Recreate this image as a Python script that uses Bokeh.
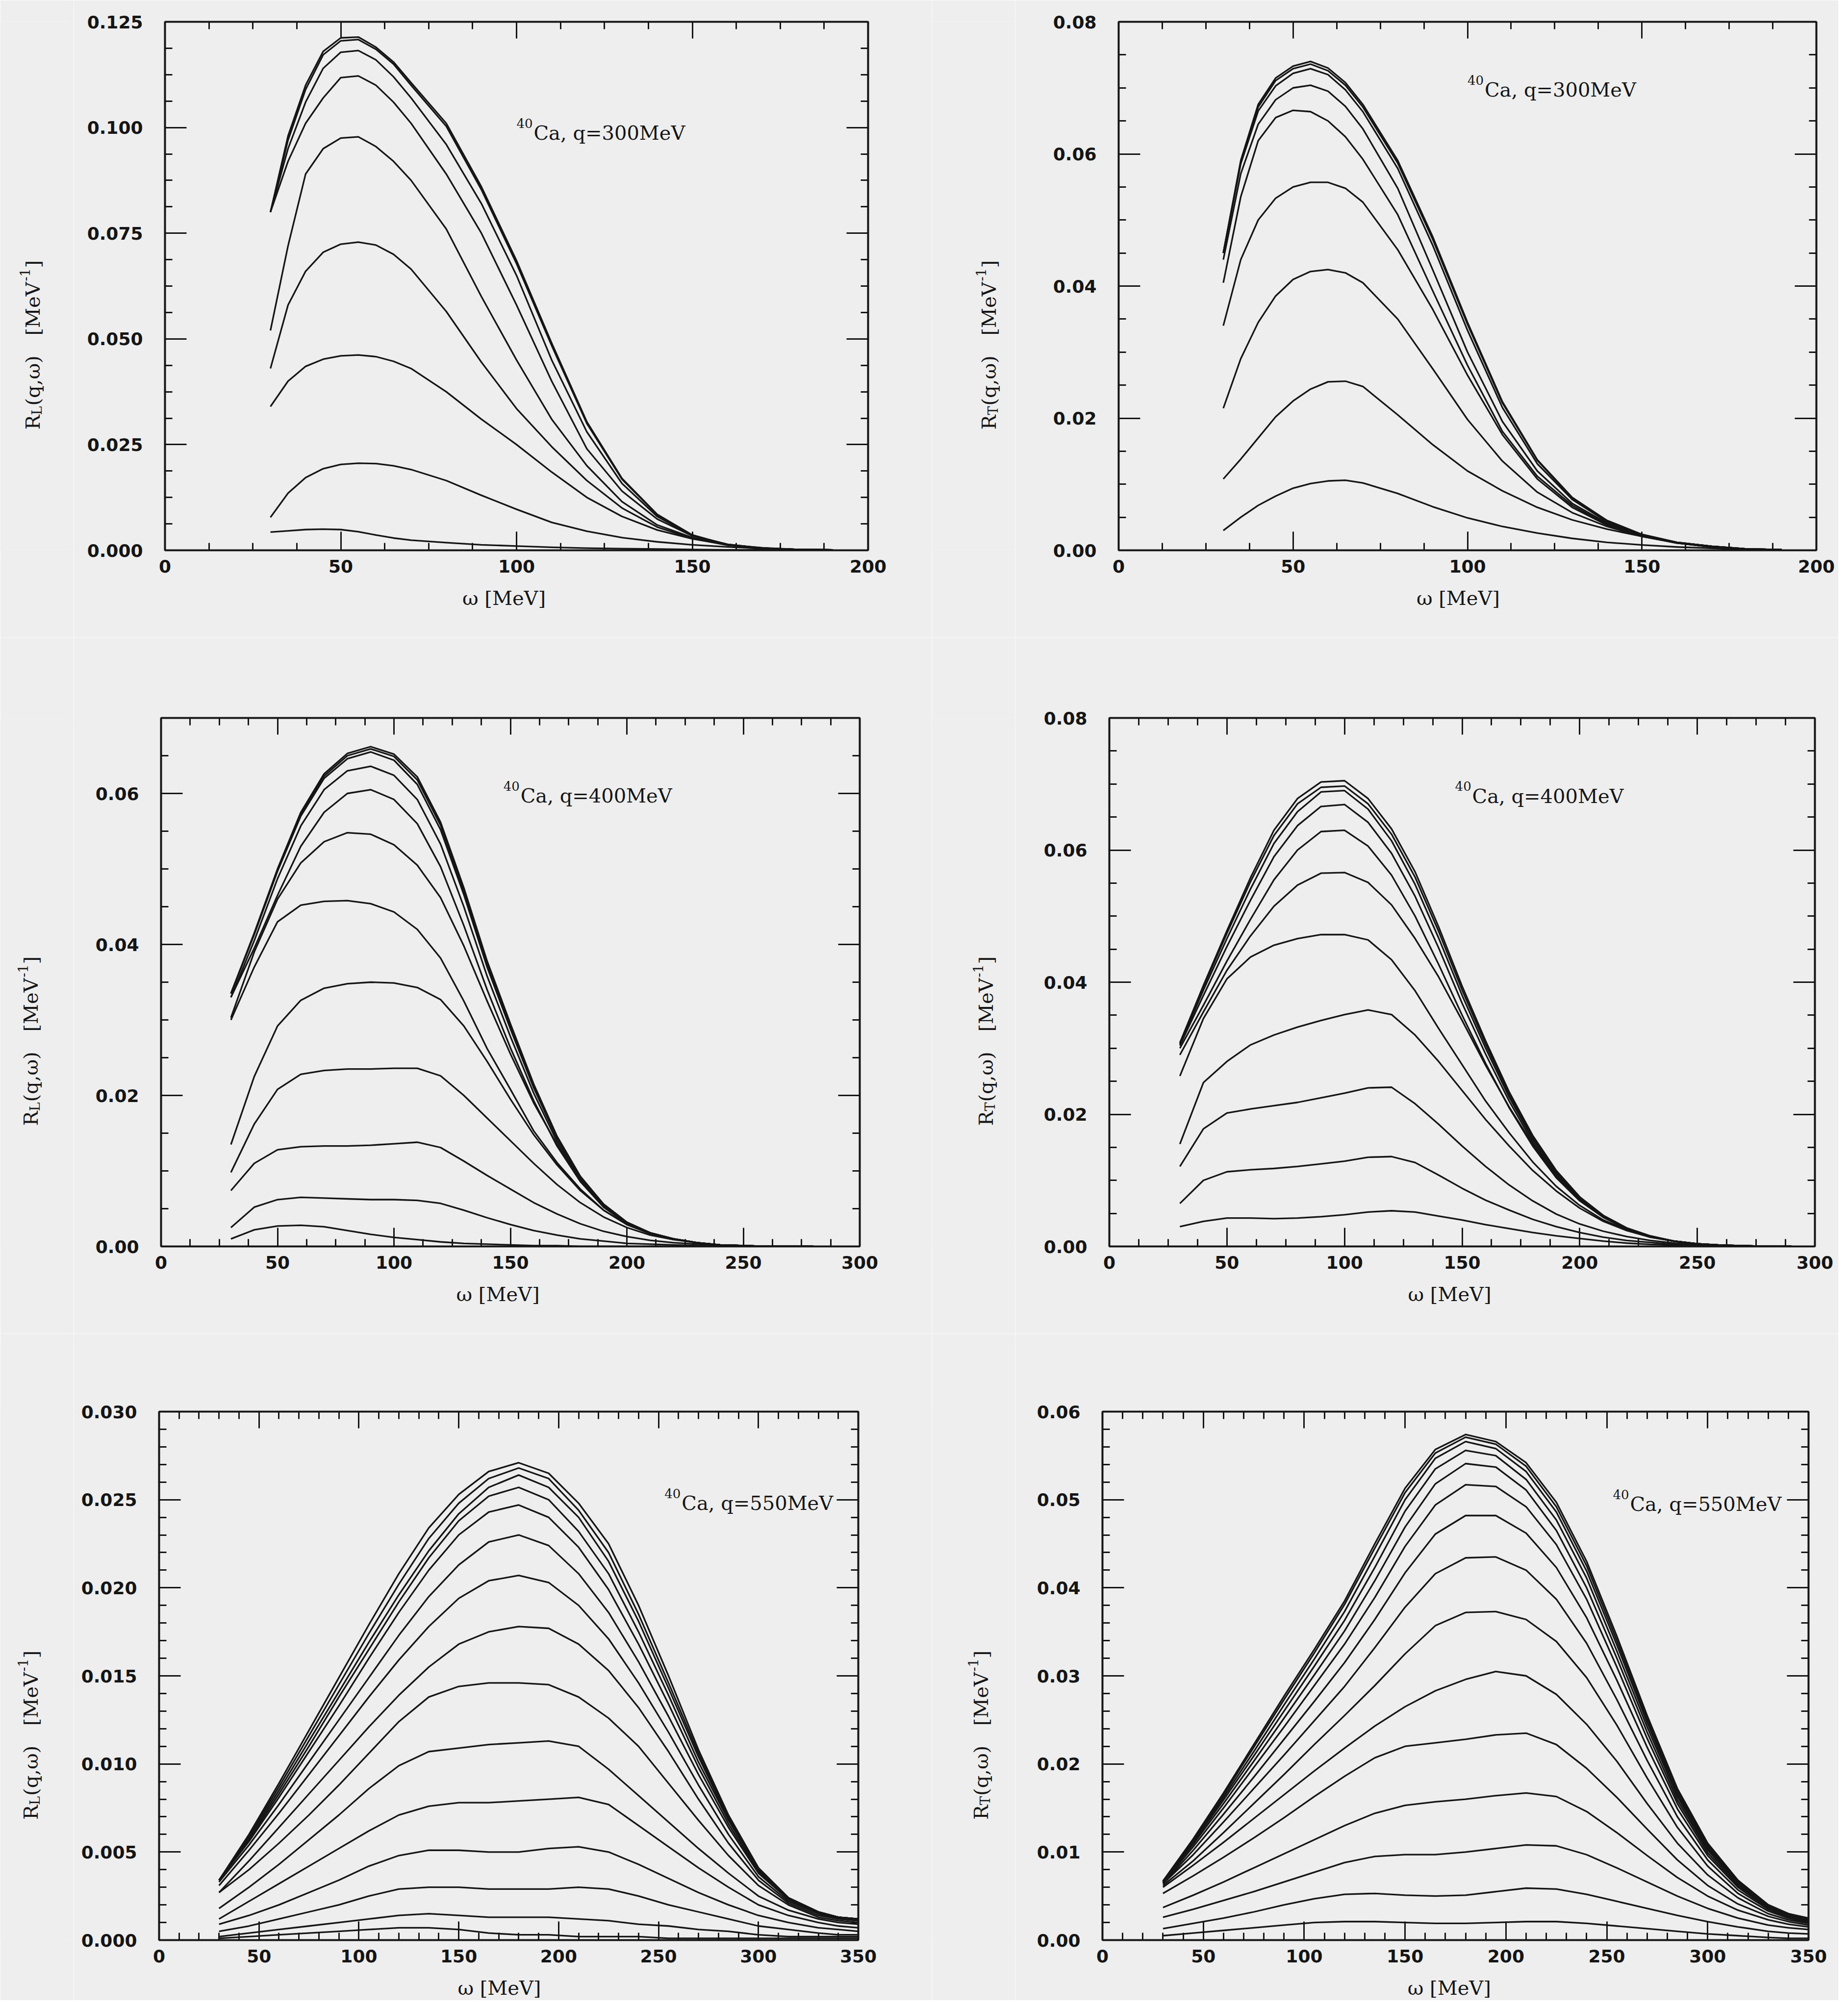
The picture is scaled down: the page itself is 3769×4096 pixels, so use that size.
import math
from bokeh.plotting import figure
from bokeh.models import (Range1d, LinearAxis, FixedTicker, NumeralTickFormatter,
                          CustomJSTickFormatter, Label)
from bokeh.core.properties import value
from bokeh.layouts import column, row
from bokeh.embed import file_html
from bokeh.resources import INLINE

# ------------------------------------------------------------------ data
# omega grids [MeV]
omega_q300 = [30, 35, 40, 45, 50, 55, 60, 65, 70, 80, 90, 100, 110, 120, 130, 140, 150, 160, 170, 180, 190]
omega_q400_L = [30, 40, 50, 60, 70, 80, 90, 100, 110, 120, 130, 140, 150, 160, 170, 180, 190, 200, 210, 220,
                230, 240, 250, 260, 270, 280]
omega_q400_T = [30, 40, 50, 60, 70, 80, 90, 100, 110, 120, 130, 140, 150, 160, 170, 180, 190, 200, 210, 220,
                230, 240, 250, 260, 270, 280, 290]
omega_q550 = [30, 45, 60, 75, 90, 105, 120, 135, 150, 165, 180, 195, 210, 225, 240, 255, 270, 285, 300, 315,
              330, 340, 350]

# R_L(q=300 MeV, omega) [MeV^-1]
RL_q300 = [
    [0.0800, 0.0980, 0.1100, 0.1180, 0.1212, 0.1214, 0.1190, 0.1155, 0.1106, 0.1010, 0.0860, 0.0685, 0.0490, 0.0304, 0.0170, 0.0085, 0.0036, 0.0013, 0.0005, 0.0002, 0.0001],
    [0.0800, 0.0970, 0.1090, 0.1172, 0.1205, 0.1208, 0.1185, 0.1150, 0.1100, 0.1003, 0.0853, 0.0678, 0.0484, 0.0300, 0.0168, 0.0084, 0.0036, 0.0013, 0.0005, 0.0002, 0.0001],
    [0.0800, 0.0950, 0.1060, 0.1140, 0.1178, 0.1182, 0.1160, 0.1120, 0.1070, 0.0960, 0.0820, 0.0650, 0.0450, 0.0280, 0.0158, 0.0080, 0.0035, 0.0014, 0.0005, 0.0002, 0.0001],
    [0.0800, 0.0920, 0.1010, 0.1070, 0.1118, 0.1122, 0.1100, 0.1060, 0.1010, 0.0890, 0.0750, 0.0580, 0.0400, 0.0240, 0.0140, 0.0074, 0.0034, 0.0014, 0.0005, 0.0002, 0.0001],
    [0.0520, 0.0720, 0.0890, 0.0950, 0.0975, 0.0978, 0.0955, 0.0920, 0.0875, 0.0760, 0.0600, 0.0450, 0.0310, 0.0200, 0.0115, 0.0060, 0.0030, 0.0013, 0.0005, 0.0002, 0.0001],
    [0.0430, 0.0580, 0.0660, 0.0705, 0.0724, 0.0729, 0.0722, 0.0700, 0.0665, 0.0565, 0.0445, 0.0335, 0.0245, 0.0165, 0.0100, 0.0055, 0.0028, 0.0012, 0.0005, 0.0002, 0.0001],
    [0.0340, 0.0400, 0.0435, 0.0452, 0.0460, 0.0462, 0.0458, 0.0447, 0.0430, 0.0375, 0.0310, 0.0250, 0.0185, 0.0125, 0.0080, 0.0048, 0.0027, 0.0013, 0.0006, 0.0002, 0.0001],
    [0.0078, 0.0135, 0.0172, 0.0193, 0.0203, 0.0206, 0.0205, 0.0200, 0.0191, 0.0165, 0.0130, 0.0097, 0.0066, 0.0045, 0.0030, 0.0020, 0.0013, 0.0008, 0.0004, 0.0002, 0.0001],
    [0.0043, 0.0046, 0.0049, 0.0050, 0.0049, 0.0044, 0.0036, 0.0029, 0.0024, 0.0018, 0.0013, 0.0010, 0.0007, 0.0005, 0.0004, 0.0003, 0.0002, 0.0001, 0.0001, 0.0000, 0.0000],
]

# R_T(q=300 MeV, omega) [MeV^-1]
RT_q300 = [
    [0.0450, 0.0590, 0.0675, 0.0715, 0.0733, 0.0740, 0.0730, 0.0708, 0.0675, 0.0590, 0.0475, 0.0345, 0.0225, 0.0137, 0.0080, 0.0045, 0.0024, 0.0012, 0.0006, 0.0002, 0.0001],
    [0.0450, 0.0588, 0.0671, 0.0711, 0.0729, 0.0736, 0.0726, 0.0704, 0.0671, 0.0586, 0.0471, 0.0342, 0.0223, 0.0136, 0.0079, 0.0045, 0.0024, 0.0012, 0.0006, 0.0002, 0.0001],
    [0.0450, 0.0585, 0.0665, 0.0703, 0.0722, 0.0729, 0.0720, 0.0697, 0.0664, 0.0578, 0.0462, 0.0333, 0.0216, 0.0131, 0.0077, 0.0043, 0.0023, 0.0012, 0.0006, 0.0002, 0.0001],
    [0.0440, 0.0570, 0.0645, 0.0682, 0.0700, 0.0704, 0.0695, 0.0672, 0.0638, 0.0548, 0.0425, 0.0300, 0.0195, 0.0120, 0.0071, 0.0041, 0.0022, 0.0011, 0.0006, 0.0002, 0.0001],
    [0.0405, 0.0535, 0.0620, 0.0655, 0.0666, 0.0664, 0.0650, 0.0626, 0.0592, 0.0508, 0.0393, 0.0280, 0.0180, 0.0112, 0.0068, 0.0039, 0.0022, 0.0011, 0.0005, 0.0002, 0.0001],
    [0.0340, 0.0440, 0.0500, 0.0533, 0.0550, 0.0557, 0.0557, 0.0548, 0.0527, 0.0455, 0.0365, 0.0265, 0.0175, 0.0108, 0.0065, 0.0038, 0.0021, 0.0011, 0.0005, 0.0002, 0.0001],
    [0.0215, 0.0290, 0.0345, 0.0385, 0.0410, 0.0422, 0.0425, 0.0420, 0.0405, 0.0350, 0.0275, 0.0198, 0.0135, 0.0088, 0.0057, 0.0036, 0.0021, 0.0011, 0.0005, 0.0002, 0.0001],
    [0.0108, 0.0138, 0.0170, 0.0202, 0.0226, 0.0244, 0.0255, 0.0256, 0.0248, 0.0205, 0.0160, 0.0120, 0.0090, 0.0065, 0.0046, 0.0032, 0.0021, 0.0012, 0.0006, 0.0002, 0.0001],
    [0.0030, 0.0050, 0.0068, 0.0082, 0.0094, 0.0101, 0.0105, 0.0106, 0.0102, 0.0086, 0.0066, 0.0049, 0.0036, 0.0026, 0.0018, 0.0012, 0.0008, 0.0005, 0.0003, 0.0001, 0.0001],
]

# R_L(q=400 MeV, omega) [MeV^-1]
RL_q400 = [
    [0.0335, 0.0415, 0.0500, 0.0575, 0.0626, 0.0653, 0.0662, 0.0652, 0.0622, 0.0562, 0.0475, 0.0378, 0.0295, 0.0215, 0.0146, 0.0093, 0.0056, 0.0032, 0.0018, 0.0010, 0.0005, 0.0002, 0.0001, 0.0, 0.0, 0.0],
    [0.0335, 0.0414, 0.0498, 0.0572, 0.0623, 0.0650, 0.0659, 0.0649, 0.0618, 0.0558, 0.0471, 0.0375, 0.0292, 0.0213, 0.0145, 0.0092, 0.0056, 0.0032, 0.0018, 0.0010, 0.0005, 0.0002, 0.0001, 0.0, 0.0, 0.0],
    [0.0335, 0.0413, 0.0497, 0.0570, 0.0620, 0.0646, 0.0655, 0.0644, 0.0612, 0.0552, 0.0466, 0.0370, 0.0288, 0.0210, 0.0143, 0.0091, 0.0055, 0.0032, 0.0018, 0.0010, 0.0005, 0.0002, 0.0001, 0.0, 0.0, 0.0],
    [0.0330, 0.0405, 0.0487, 0.0557, 0.0605, 0.0630, 0.0636, 0.0624, 0.0592, 0.0533, 0.0450, 0.0358, 0.0278, 0.0203, 0.0139, 0.0089, 0.0054, 0.0031, 0.0018, 0.0010, 0.0005, 0.0002, 0.0001, 0.0, 0.0, 0.0],
    [0.0330, 0.0395, 0.0465, 0.0530, 0.0575, 0.0600, 0.0605, 0.0592, 0.0560, 0.0503, 0.0425, 0.0340, 0.0263, 0.0193, 0.0133, 0.0086, 0.0052, 0.0030, 0.0017, 0.0010, 0.0005, 0.0002, 0.0001, 0.0, 0.0, 0.0],
    [0.0303, 0.0390, 0.0460, 0.0508, 0.0536, 0.0548, 0.0546, 0.0532, 0.0505, 0.0462, 0.0398, 0.0325, 0.0255, 0.0190, 0.0135, 0.0088, 0.0054, 0.0031, 0.0018, 0.0010, 0.0005, 0.0002, 0.0001, 0.0, 0.0, 0.0],
    [0.0300, 0.0370, 0.0430, 0.0452, 0.0457, 0.0458, 0.0454, 0.0443, 0.0420, 0.0382, 0.0325, 0.0262, 0.0208, 0.0153, 0.0111, 0.0076, 0.0048, 0.0029, 0.0017, 0.0010, 0.0005, 0.0002, 0.0001, 0.0, 0.0, 0.0],
    [0.0135, 0.0225, 0.0292, 0.0326, 0.0342, 0.0348, 0.0350, 0.0349, 0.0343, 0.0327, 0.0292, 0.0245, 0.0195, 0.0148, 0.0108, 0.0074, 0.0048, 0.0029, 0.0017, 0.0010, 0.0005, 0.0002, 0.0001, 0.0, 0.0, 0.0],
    [0.0098, 0.0162, 0.0208, 0.0228, 0.0233, 0.0235, 0.0235, 0.0236, 0.0236, 0.0226, 0.0200, 0.0170, 0.0140, 0.0110, 0.0082, 0.0058, 0.0039, 0.0025, 0.0015, 0.0009, 0.0005, 0.0002, 0.0001, 0.0, 0.0, 0.0],
    [0.0074, 0.0110, 0.0128, 0.0132, 0.0133, 0.0133, 0.0134, 0.0136, 0.0138, 0.0131, 0.0113, 0.0094, 0.0076, 0.0058, 0.0043, 0.0030, 0.0020, 0.0013, 0.0008, 0.0005, 0.0003, 0.0001, 0.0001, 0.0, 0.0, 0.0],
    [0.0025, 0.0052, 0.0062, 0.0065, 0.0064, 0.0063, 0.0062, 0.0062, 0.0061, 0.0057, 0.0048, 0.0038, 0.0029, 0.0021, 0.0015, 0.0010, 0.0007, 0.0004, 0.0003, 0.0002, 0.0001, 0.0, 0.0, 0.0, 0.0, 0.0],
    [0.0010, 0.0022, 0.0027, 0.0028, 0.0026, 0.0021, 0.0016, 0.0012, 0.0009, 0.0006, 0.0004, 0.0003, 0.0002, 0.0001, 0.0001, 0.0, 0.0, 0.0, 0.0, 0.0, 0.0, 0.0, 0.0, 0.0, 0.0, 0.0],
]

# R_T(q=400 MeV, omega) [MeV^-1]
RT_q400 = [
    [0.0308, 0.0395, 0.0478, 0.0558, 0.0630, 0.0678, 0.0703, 0.0705, 0.0678, 0.0632, 0.0567, 0.0484, 0.0394, 0.0311, 0.0234, 0.0168, 0.0115, 0.0075, 0.0047, 0.0028, 0.0016, 0.0008, 0.0004, 0.0002, 0.0001, 0.0, 0.0],
    [0.0308, 0.0393, 0.0474, 0.0552, 0.0622, 0.0670, 0.0695, 0.0697, 0.0670, 0.0624, 0.0559, 0.0477, 0.0388, 0.0306, 0.0230, 0.0165, 0.0113, 0.0074, 0.0046, 0.0027, 0.0015, 0.0008, 0.0004, 0.0002, 0.0001, 0.0, 0.0],
    [0.0306, 0.0388, 0.0466, 0.0541, 0.0610, 0.0658, 0.0688, 0.0690, 0.0662, 0.0614, 0.0548, 0.0467, 0.0380, 0.0300, 0.0226, 0.0162, 0.0111, 0.0073, 0.0046, 0.0027, 0.0015, 0.0008, 0.0004, 0.0002, 0.0001, 0.0, 0.0],
    [0.0304, 0.0380, 0.0454, 0.0524, 0.0590, 0.0637, 0.0666, 0.0669, 0.0642, 0.0595, 0.0530, 0.0452, 0.0368, 0.0291, 0.0220, 0.0158, 0.0108, 0.0071, 0.0045, 0.0027, 0.0015, 0.0008, 0.0004, 0.0002, 0.0001, 0.0, 0.0],
    [0.0300, 0.0365, 0.0432, 0.0495, 0.0555, 0.0600, 0.0628, 0.0630, 0.0606, 0.0562, 0.0500, 0.0427, 0.0350, 0.0277, 0.0210, 0.0152, 0.0104, 0.0069, 0.0044, 0.0026, 0.0015, 0.0008, 0.0004, 0.0002, 0.0001, 0.0, 0.0],
    [0.0290, 0.0355, 0.0418, 0.0470, 0.0515, 0.0547, 0.0565, 0.0566, 0.0551, 0.0517, 0.0466, 0.0408, 0.0342, 0.0274, 0.0211, 0.0155, 0.0107, 0.0071, 0.0045, 0.0027, 0.0015, 0.0008, 0.0004, 0.0002, 0.0001, 0.0, 0.0],
    [0.0258, 0.0345, 0.0405, 0.0438, 0.0456, 0.0466, 0.0472, 0.0472, 0.0464, 0.0434, 0.0387, 0.0330, 0.0275, 0.0220, 0.0172, 0.0128, 0.0091, 0.0062, 0.0040, 0.0025, 0.0014, 0.0008, 0.0004, 0.0002, 0.0001, 0.0, 0.0],
    [0.0155, 0.0248, 0.0280, 0.0305, 0.0320, 0.0332, 0.0342, 0.0351, 0.0358, 0.0351, 0.0320, 0.0280, 0.0236, 0.0192, 0.0152, 0.0115, 0.0084, 0.0058, 0.0038, 0.0024, 0.0014, 0.0008, 0.0004, 0.0002, 0.0001, 0.0, 0.0],
    [0.0121, 0.0178, 0.0202, 0.0208, 0.0213, 0.0218, 0.0225, 0.0232, 0.0240, 0.0241, 0.0216, 0.0185, 0.0152, 0.0121, 0.0093, 0.0069, 0.0049, 0.0034, 0.0023, 0.0015, 0.0009, 0.0005, 0.0003, 0.0001, 0.0001, 0.0, 0.0],
    [0.0065, 0.0100, 0.0113, 0.0116, 0.0118, 0.0121, 0.0125, 0.0129, 0.0135, 0.0136, 0.0127, 0.0108, 0.0088, 0.0070, 0.0055, 0.0041, 0.0030, 0.0021, 0.0014, 0.0009, 0.0006, 0.0003, 0.0002, 0.0001, 0.0, 0.0, 0.0],
    [0.0030, 0.0038, 0.0043, 0.0043, 0.0042, 0.0043, 0.0045, 0.0048, 0.0052, 0.0054, 0.0052, 0.0046, 0.0040, 0.0033, 0.0027, 0.0021, 0.0016, 0.0012, 0.0008, 0.0005, 0.0003, 0.0002, 0.0001, 0.0001, 0.0, 0.0, 0.0],
]

# R_L(q=550 MeV, omega) [MeV^-1]
RL_q550 = [
    [0.0034, 0.0060, 0.0089, 0.0119, 0.0149, 0.0179, 0.0208, 0.0234, 0.0253, 0.0266, 0.0271, 0.0265, 0.0248, 0.0225, 0.0190, 0.0150, 0.0108, 0.0071, 0.0041, 0.0024, 0.0016, 0.0013, 0.0012],
    [0.0034, 0.0059, 0.0087, 0.0116, 0.0145, 0.0174, 0.0202, 0.0228, 0.0248, 0.0262, 0.0268, 0.0262, 0.0244, 0.0220, 0.0185, 0.0146, 0.0106, 0.0070, 0.0041, 0.0024, 0.0016, 0.0013, 0.0012],
    [0.0034, 0.0058, 0.0085, 0.0113, 0.0141, 0.0169, 0.0196, 0.0221, 0.0242, 0.0257, 0.0264, 0.0257, 0.0240, 0.0215, 0.0181, 0.0143, 0.0104, 0.0069, 0.0040, 0.0024, 0.0016, 0.0013, 0.0012],
    [0.0034, 0.0057, 0.0083, 0.0110, 0.0138, 0.0165, 0.0192, 0.0217, 0.0238, 0.0252, 0.0257, 0.0250, 0.0232, 0.0208, 0.0175, 0.0139, 0.0101, 0.0068, 0.0040, 0.0024, 0.0016, 0.0013, 0.0012],
    [0.0034, 0.0056, 0.0081, 0.0107, 0.0133, 0.0160, 0.0186, 0.0210, 0.0230, 0.0243, 0.0247, 0.0240, 0.0223, 0.0199, 0.0168, 0.0134, 0.0098, 0.0066, 0.0039, 0.0023, 0.0016, 0.0013, 0.0012],
    [0.0033, 0.0054, 0.0077, 0.0101, 0.0125, 0.0149, 0.0173, 0.0195, 0.0213, 0.0226, 0.0230, 0.0224, 0.0208, 0.0186, 0.0158, 0.0127, 0.0094, 0.0064, 0.0038, 0.0023, 0.0015, 0.0013, 0.0012],
    [0.0031, 0.0051, 0.0072, 0.0094, 0.0116, 0.0138, 0.0159, 0.0178, 0.0194, 0.0204, 0.0207, 0.0203, 0.0190, 0.0171, 0.0146, 0.0118, 0.0088, 0.0060, 0.0036, 0.0022, 0.0015, 0.0012, 0.0011],
    [0.0027, 0.0045, 0.0064, 0.0083, 0.0102, 0.0121, 0.0139, 0.0155, 0.0168, 0.0175, 0.0178, 0.0177, 0.0168, 0.0153, 0.0132, 0.0107, 0.0080, 0.0055, 0.0034, 0.0021, 0.0014, 0.0012, 0.0011],
    [0.0027, 0.0040, 0.0055, 0.0071, 0.0088, 0.0106, 0.0124, 0.0138, 0.0144, 0.0146, 0.0146, 0.0145, 0.0138, 0.0126, 0.0110, 0.0089, 0.0068, 0.0048, 0.0031, 0.0020, 0.0013, 0.0011, 0.0010],
    [0.0018, 0.0030, 0.0043, 0.0057, 0.0071, 0.0086, 0.0099, 0.0107, 0.0109, 0.0111, 0.0112, 0.0113, 0.0110, 0.0097, 0.0082, 0.0067, 0.0052, 0.0038, 0.0025, 0.0017, 0.0012, 0.0010, 0.0009],
    [0.0012, 0.0022, 0.0032, 0.0042, 0.0052, 0.0062, 0.0071, 0.0076, 0.0078, 0.0078, 0.0079, 0.0080, 0.0081, 0.0077, 0.0065, 0.0053, 0.0041, 0.0030, 0.0020, 0.0014, 0.0010, 0.0008, 0.0007],
    [0.0009, 0.0014, 0.0020, 0.0027, 0.0034, 0.0042, 0.0048, 0.0051, 0.0051, 0.0050, 0.0050, 0.0052, 0.0053, 0.0050, 0.0043, 0.0035, 0.0027, 0.0020, 0.0014, 0.0010, 0.0007, 0.0006, 0.0005],
    [0.0005, 0.0008, 0.0012, 0.0016, 0.0020, 0.0025, 0.0029, 0.0030, 0.0030, 0.0029, 0.0029, 0.0029, 0.0030, 0.0029, 0.0025, 0.0020, 0.0016, 0.0012, 0.0008, 0.0006, 0.0004, 0.0003, 0.0003],
    [0.0002, 0.0004, 0.0006, 0.0008, 0.0010, 0.0012, 0.0014, 0.0015, 0.0014, 0.0013, 0.0013, 0.0013, 0.0012, 0.0011, 0.0009, 0.0008, 0.0006, 0.0005, 0.0003, 0.0002, 0.0002, 0.0002, 0.0002],
    [0.0001, 0.0002, 0.0003, 0.0004, 0.0005, 0.0006, 0.0007, 0.0007, 0.0006, 0.0004, 0.0003, 0.0003, 0.0002, 0.0002, 0.0002, 0.0001, 0.0001, 0.0001, 0.0001, 0.0001, 0.0001, 0.0001, 0.0001],
]

# R_T(q=550 MeV, omega) [MeV^-1]
RT_q550 = [
    [0.0067, 0.0115, 0.0167, 0.0222, 0.0277, 0.0330, 0.0385, 0.0450, 0.0513, 0.0557, 0.0574, 0.0566, 0.0542, 0.0497, 0.0430, 0.0345, 0.0255, 0.0172, 0.0110, 0.0068, 0.0040, 0.0030, 0.0025],
    [0.0067, 0.0114, 0.0165, 0.0219, 0.0273, 0.0326, 0.0381, 0.0445, 0.0508, 0.0553, 0.0571, 0.0563, 0.0538, 0.0492, 0.0425, 0.0340, 0.0251, 0.0169, 0.0108, 0.0067, 0.0040, 0.0030, 0.0024],
    [0.0067, 0.0113, 0.0162, 0.0214, 0.0267, 0.0319, 0.0373, 0.0436, 0.0500, 0.0547, 0.0566, 0.0558, 0.0532, 0.0486, 0.0419, 0.0335, 0.0247, 0.0166, 0.0106, 0.0066, 0.0039, 0.0029, 0.0024],
    [0.0066, 0.0111, 0.0159, 0.0209, 0.0260, 0.0311, 0.0363, 0.0423, 0.0487, 0.0535, 0.0556, 0.0550, 0.0523, 0.0477, 0.0411, 0.0328, 0.0242, 0.0163, 0.0104, 0.0065, 0.0039, 0.0029, 0.0023],
    [0.0066, 0.0109, 0.0155, 0.0203, 0.0252, 0.0301, 0.0351, 0.0408, 0.0469, 0.0518, 0.0541, 0.0537, 0.0511, 0.0465, 0.0400, 0.0320, 0.0236, 0.0159, 0.0102, 0.0064, 0.0038, 0.0028, 0.0023],
    [0.0065, 0.0106, 0.0150, 0.0196, 0.0242, 0.0289, 0.0336, 0.0389, 0.0447, 0.0494, 0.0517, 0.0515, 0.0492, 0.0449, 0.0387, 0.0310, 0.0229, 0.0155, 0.0099, 0.0062, 0.0037, 0.0027, 0.0022],
    [0.0064, 0.0102, 0.0143, 0.0185, 0.0228, 0.0271, 0.0315, 0.0364, 0.0417, 0.0461, 0.0482, 0.0482, 0.0462, 0.0423, 0.0366, 0.0295, 0.0219, 0.0149, 0.0096, 0.0060, 0.0036, 0.0027, 0.0022],
    [0.0064, 0.0097, 0.0134, 0.0172, 0.0210, 0.0249, 0.0288, 0.0332, 0.0378, 0.0416, 0.0434, 0.0435, 0.0420, 0.0387, 0.0337, 0.0273, 0.0204, 0.0140, 0.0091, 0.0057, 0.0035, 0.0026, 0.0021],
    [0.0062, 0.0090, 0.0122, 0.0155, 0.0188, 0.0222, 0.0255, 0.0289, 0.0325, 0.0357, 0.0372, 0.0373, 0.0364, 0.0339, 0.0298, 0.0244, 0.0184, 0.0128, 0.0084, 0.0053, 0.0033, 0.0025, 0.0020],
    [0.0060, 0.0085, 0.0111, 0.0138, 0.0165, 0.0192, 0.0218, 0.0243, 0.0265, 0.0283, 0.0296, 0.0305, 0.0300, 0.0279, 0.0245, 0.0203, 0.0155, 0.0110, 0.0074, 0.0048, 0.0030, 0.0023, 0.0019],
    [0.0053, 0.0073, 0.0094, 0.0116, 0.0139, 0.0163, 0.0186, 0.0207, 0.0220, 0.0224, 0.0228, 0.0233, 0.0235, 0.0222, 0.0195, 0.0162, 0.0126, 0.0091, 0.0062, 0.0041, 0.0027, 0.0021, 0.0017],
    [0.0037, 0.0051, 0.0066, 0.0082, 0.0098, 0.0114, 0.0130, 0.0144, 0.0153, 0.0157, 0.0160, 0.0164, 0.0167, 0.0163, 0.0146, 0.0122, 0.0096, 0.0071, 0.0050, 0.0034, 0.0023, 0.0018, 0.0015],
    [0.0026, 0.0035, 0.0045, 0.0055, 0.0066, 0.0077, 0.0088, 0.0095, 0.0097, 0.0097, 0.0100, 0.0104, 0.0108, 0.0107, 0.0097, 0.0082, 0.0066, 0.0050, 0.0036, 0.0025, 0.0017, 0.0014, 0.0012],
    [0.0013, 0.0019, 0.0025, 0.0032, 0.0040, 0.0047, 0.0052, 0.0053, 0.0051, 0.0050, 0.0051, 0.0055, 0.0059, 0.0058, 0.0052, 0.0044, 0.0036, 0.0028, 0.0021, 0.0015, 0.0010, 0.0008, 0.0007],
    [0.0005, 0.0008, 0.0011, 0.0014, 0.0017, 0.0020, 0.0021, 0.0021, 0.0020, 0.0019, 0.0019, 0.0020, 0.0021, 0.0021, 0.0019, 0.0016, 0.0013, 0.0010, 0.0007, 0.0005, 0.0003, 0.0002, 0.0002],
]

# axis ticks and labels
x_ticks_200 = [0, 50, 100, 150, 200]
x_ticks_300 = [0, 50, 100, 150, 200, 250, 300]
x_ticks_350 = [0, 50, 100, 150, 200, 250, 300, 350]
y_ticks_L300 = [0.0, 0.025, 0.05, 0.075, 0.1, 0.125]
y_ticks_T300 = [0.0, 0.02, 0.04, 0.06, 0.08]
y_ticks_L400 = [0.0, 0.02, 0.04, 0.06]
y_ticks_T400 = [0.0, 0.02, 0.04, 0.06, 0.08]
y_ticks_L550 = [0.0, 0.005, 0.01, 0.015, 0.02, 0.025, 0.03]
y_ticks_T550 = [0.0, 0.01, 0.02, 0.03, 0.04, 0.05, 0.06]
q_labels = ["q=300MeV", "q=400MeV", "q=550MeV"]
x_title = "\u03c9 [MeV]"

# ------------------------------------------------------------------ style
INK = "#151515"
BG = "#eeeeee"
SERIF = "DejaVu Serif"
TICKFONT = "DejaVu Sans"
BLANK = CustomJSTickFormatter(code="return '';")
NBSP = "\u00a0"


def minor_positions(top, step):
    n = int(round(top / step))
    return [round(i * step, 6) for i in range(n + 1)]


def style_axis(ax, major_len, labelled, standoff):
    ax.axis_line_color = INK
    ax.axis_line_width = 3.6
    ax.major_tick_in = major_len
    ax.major_tick_out = 0
    ax.minor_tick_in = 15
    ax.minor_tick_out = 0
    ax.major_tick_line_color = INK
    ax.minor_tick_line_color = INK
    ax.major_tick_line_width = 3
    ax.minor_tick_line_width = 3
    ax.major_label_standoff = standoff
    if labelled:
        ax.major_label_text_font = TICKFONT
        ax.major_label_text_font_style = "bold"
        ax.major_label_text_font_size = "36px"
        ax.major_label_text_color = INK
    else:
        ax.formatter = BLANK
        ax.major_label_text_font_size = "1px"


def panel(width, height, borders, xmax, ymax, xmaj, xstep, ymaj, ystep, yfmt,
          omega, curves, qtext, ann, pad):
    left, right, top, bottom = borders
    p = figure(width=width, height=height, output_backend="svg", toolbar_location=None,
               x_range=Range1d(0, xmax), y_range=Range1d(0, ymax),
               x_axis_type=None, y_axis_type=None,
               min_border_left=left, min_border_right=right,
               min_border_top=top, min_border_bottom=bottom,
               background_fill_color=BG, border_fill_color=BG,
               outline_line_color=INK, outline_line_width=3.6)

    xt = FixedTicker(ticks=xmaj, minor_ticks=minor_positions(xmax, xstep))
    yt = FixedTicker(ticks=ymaj, minor_ticks=minor_positions(ymax, ystep))

    ax = LinearAxis(ticker=xt, formatter=NumeralTickFormatter(format="0"))
    style_axis(ax, 38, True, 19)
    ax.axis_label = x_title + NBSP * pad
    ax.axis_label_text_font = SERIF
    ax.axis_label_text_font_style = "normal"
    ax.axis_label_text_font_size = "40px"
    ax.axis_label_text_color = INK
    ax.axis_label_standoff = 26
    p.add_layout(ax, "below")
    ax = LinearAxis(ticker=xt)
    style_axis(ax, 34, False, 0)
    p.add_layout(ax, "above")
    ax = LinearAxis(ticker=yt, formatter=NumeralTickFormatter(format=yfmt))
    style_axis(ax, 44, True, 45)
    p.add_layout(ax, "left")
    ax = LinearAxis(ticker=yt)
    style_axis(ax, 44, False, 0)
    p.add_layout(ax, "right")

    for vals in curves:
        if len(vals) != len(omega):
            raise ValueError("length mismatch")
        p.line(omega, vals, line_color=INK, line_width=3.3, line_join="round")

    # annotation  40Ca, q=...
    ax0, ay0 = ann
    p.add_layout(Label(x=ax0, y=ay0, y_offset=20, text="40", text_font=SERIF,
                       text_font_size="26px", text_color=INK,
                       text_align="left", text_baseline="alphabetic"))
    p.add_layout(Label(x=ax0, y=ay0, x_offset=35, text="Ca, " + qtext, text_font=SERIF,
                       text_font_size="40px", text_color=INK,
                       text_align="left", text_baseline="alphabetic"))
    return p


def ylabel_strip(width, height, top, bottom, base_x, sub):
    """Narrow figure holding the rotated y-axis title.
    Its frame is aligned with the panel frame of the same row; y is in px above the frame bottom."""
    s = figure(width=width, height=height, output_backend="svg", toolbar_location=None,
               x_range=Range1d(0, width), y_range=Range1d(0, height - top - bottom),
               x_axis_type=None, y_axis_type=None,
               min_border_left=0, min_border_right=0, min_border_top=top, min_border_bottom=bottom,
               background_fill_color=BG, border_fill_color=BG, outline_line_color=None)
    start = 246
    pieces = [("R", 0, 0, 40), (sub, 30, 9, 27), ("(q,\u03c9)", 49, 0, 40),
              ("[MeV", 192, 0, 40), ("-1", 303, -16, 27), ("]", 330, 0, 40)]
    for txt, along, perp, size in pieces:
        s.text(x=[base_x + perp], y=[start + along], text=[txt], angle=math.pi / 2,
               text_font=value(SERIF), text_font_size=value(f"{size}px"),
               text_color=INK, text_align="left", text_baseline="alphabetic")
    return s


# row borders (top, bottom) shared by every figure of a row
R1 = (44, 178)
R2 = (164, 178)
R3 = (159, 121)

p1 = panel(1750, 1300, (186, 130) + R1, 200, 0.125, x_ticks_200, 12.5, y_ticks_L300, 0.00625, "0.000",
           omega_q300, RL_q300, q_labels[0], (100, 0.0987), 4)
p2 = panel(1679, 1300, (211, 45) + R1, 200, 0.08, x_ticks_200, 12.5, y_ticks_T300, 0.005, "0.00",
           omega_q300, RT_q300, q_labels[0], (100, 0.0697), 3)
p3 = panel(1750, 1420, (178, 147) + R2, 300, 0.07, x_ticks_300, 12.5, y_ticks_L400, 0.005, "0.00",
           omega_q400_L, RL_q400, q_labels[1], (147, 0.0597), 4)
p4 = panel(1679, 1420, (192, 48) + R2, 300, 0.08, x_ticks_300, 12.5, y_ticks_T400, 0.005, "0.00",
           omega_q400_T, RT_q400, q_labels[1], (147, 0.0682), 4)
p5 = panel(1750, 1360, (174, 150) + R3, 350, 0.03, x_ticks_350, 10, y_ticks_L550, 0.001, "0.000",
           omega_q550, RL_q550, q_labels[2], (253, 0.0248), 3)
p6 = panel(1679, 1360, (178, 61) + R3, 350, 0.06, x_ticks_350, 10, y_ticks_T550, 0.002, "0.00",
           omega_q550, RT_q550, q_labels[2], (253, 0.0495), 2)

l1 = ylabel_strip(150, 1300, R1[0], R1[1], 66, "L")
l2 = ylabel_strip(170, 1300, R1[0], R1[1], 116, "T")
l3 = ylabel_strip(150, 1420, R2[0], R2[1], 62, "L")
l4 = ylabel_strip(170, 1420, R2[0], R2[1], 110, "T")
l5 = ylabel_strip(150, 1360, R3[0], R3[1], 62, "L")
l6 = ylabel_strip(170, 1360, R3[0], R3[1], 100, "T")

layout = column(row(l1, p1, l2, p2), row(l3, p3, l4, p4), row(l5, p5, l6, p6))
open("out.html", "w").write(file_html(layout, INLINE))
